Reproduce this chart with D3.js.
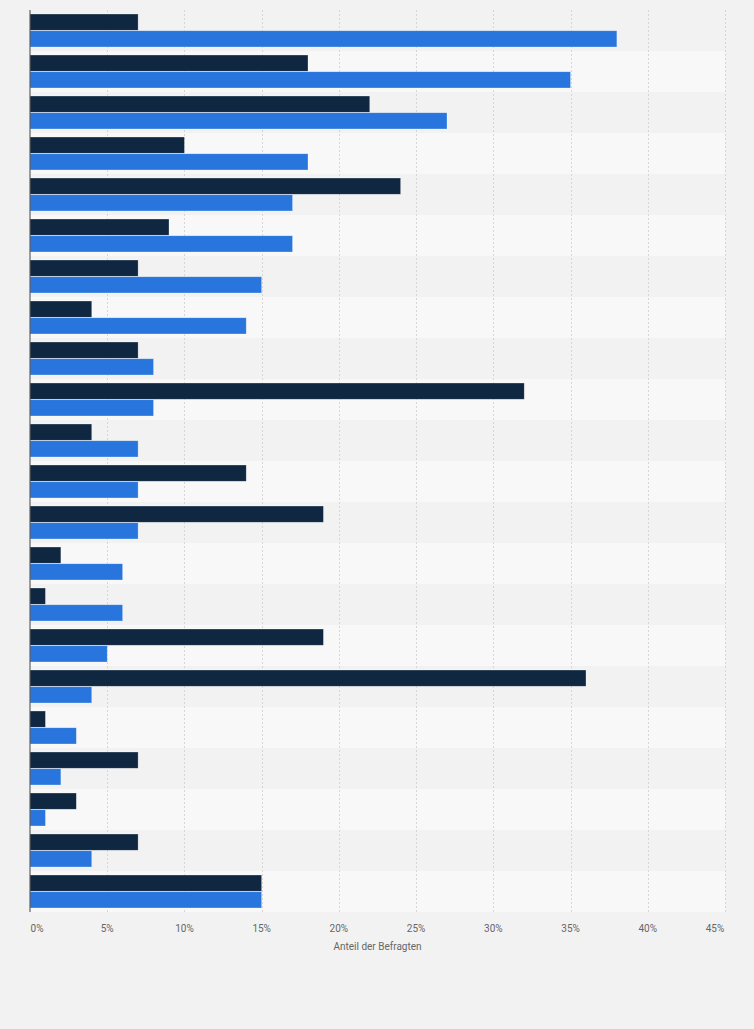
<html lang="de">
<head>
  <meta charset="UTF-8"/>
  <script src="https://d3js.org/d3.v7.min.js"></script>
  <style>
body {
  margin: 0;
  background: #f2f2f2;
  font-family: Roboto, 'Open Sans', sans-serif;
}
svg {
  display: block;
}
.grid line {
  stroke: #d6d6d6;
  stroke-dasharray: 2,2;
}
.tick-label {
  font-size: 10px;
  fill: #666;
}
.axis_title {
  font-size: 10px;
  fill: #666;
}
  </style>
</head>
<body>
<svg width="754" height="1029"></svg>
<script>
  // categories (no labels shown in the chart)
  const categories = d3.range(1, 23).map(function(d) { return 'Kategorie ' + d })
  const seriesDark = [7, 18, 22, 10, 24, 9, 7, 4, 7, 32, 4, 14, 19, 2, 1, 19, 36, 1, 7, 3, 7, 15]
  const seriesBlue = [38, 35, 27, 18, 17, 17, 15, 14, 8, 8, 7, 7, 7, 6, 6, 5, 4, 3, 2, 1, 4, 15]
  const tickValues = [0, 5, 10, 15, 20, 25, 30, 35, 40, 45]
  const axisTitle = 'Anteil der Befragten'

  const colors = { dark: '#0f2740', blue: '#2876dd' }

  const margin = { left: 30, right: 29, top: 10, bottom: 117 }
  const width = 754 - margin.left - margin.right
  const height = 1029 - margin.top - margin.bottom

  const svg = d3.select('svg')
  const chart = svg.append('g')
    .attr('transform', `translate(${margin.left},${margin.top})`)

  const x = d3.scaleLinear().domain([0, 45]).range([0, width])
  const y = d3.scaleBand().domain(categories).range([0, height]).paddingInner(0).paddingOuter(0)
  const inner = d3.scaleBand().domain(['dark', 'blue']).range([4, y.bandwidth() - 4]).paddingInner(0.03)

  // alternating row stripes
  chart.selectAll('rect.stripe')
    .data(categories)
    .enter().append('rect')
    .attr('class', 'stripe')
    .attr('x', 0)
    .attr('y', function(d) { return y(d) })
    .attr('width', width)
    .attr('height', y.bandwidth())
    .attr('fill', function(d, i) { return i % 2 ? '#f8f8f8' : '#f2f2f2' })

  // vertical grid
  chart.append('g')
    .attr('class', 'grid')
    .selectAll('line')
    .data(tickValues.slice(1))
    .enter().append('line')
    .attr('x1', function(d) { return Math.round(x(d)) + 0.5 })
    .attr('x2', function(d) { return Math.round(x(d)) + 0.5 })
    .attr('y1', 0)
    .attr('y2', height)

  const rows = categories.map(function(c, i) {
    return { cat: c, dark: seriesDark[i], blue: seriesBlue[i] }
  })

  const groups = chart.selectAll('g.row')
    .data(rows)
    .enter().append('g')
    .attr('class', 'row')
    .attr('transform', function(d) { return `translate(0,${y(d.cat)})` })

  groups.selectAll('rect')
    .data(function(d) { return [{ key: 'dark', v: d.dark }, { key: 'blue', v: d.blue }] })
    .enter().append('rect')
    .attr('x', 0)
    .attr('y', function(d) { return inner(d.key) })
    .attr('width', function(d) { return x(d.v) })
    .attr('height', inner.bandwidth())
    .attr('fill', function(d) { return colors[d.key] })
    .attr('stroke', '#ffffff')
    .attr('stroke-opacity', 0.5)
    .attr('stroke-width', 0.6)

  // left axis line
  chart.append('line')
    .attr('x1', 0).attr('x2', 0)
    .attr('y1', 0).attr('y2', height)
    .attr('stroke', '#444')
    .attr('stroke-width', 1)

  // x tick labels (first and last nudged inward like the original)
  chart.selectAll('text.tick-label')
    .data(tickValues)
    .enter().append('text')
    .attr('class', 'tick-label')
    .attr('text-anchor', 'middle')
    .attr('x', function(d, i) {
      if (i === 0) return x(d) + 7
      if (i === tickValues.length - 1) return x(d) - 10
      return x(d)
    })
    .attr('y', height + 20)
    .text(function(d) { return d + '%' })

  chart.append('text')
    .attr('class', 'axis_title')
    .attr('text-anchor', 'middle')
    .attr('x', width / 2)
    .attr('y', height + 38)
    .text(axisTitle)
</script>
</body>
</html>
